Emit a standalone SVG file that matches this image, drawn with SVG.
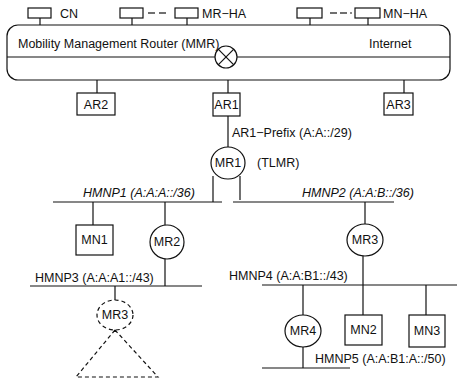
<svg xmlns="http://www.w3.org/2000/svg" width="457" height="384" viewBox="0 0 457 384">
<style>
text{font-family:"Liberation Sans",Arial,sans-serif;font-size:12.5px;fill:#111}
.b{fill:#fff;stroke:#111;stroke-width:1.2}
.l{stroke:#111;stroke-width:1.2;fill:none}
.d{stroke:#111;stroke-width:1.2;fill:none;stroke-dasharray:4 3}
</style>
<rect width="457" height="384" fill="#fff"/>
<g id="connectors">
<line class="l" x1="40" y1="18" x2="40" y2="25"/>
<line class="l" x1="132" y1="18" x2="132" y2="25"/>
<line class="l" x1="187" y1="18" x2="187" y2="25"/>
<line class="l" x1="310" y1="18" x2="310" y2="25"/>
<line class="l" x1="368" y1="18" x2="368" y2="25"/>
<line class="l" x1="148" y1="13" x2="155" y2="13" stroke-width="2"/>
<line class="l" x1="159" y1="13" x2="166" y2="13" stroke-width="2"/>
<line class="l" x1="330" y1="13" x2="337" y2="13" stroke-width="2"/>
<line class="l" x1="340" y1="13" x2="347" y2="13" stroke-width="2"/>
<line class="l" x1="350" y1="13" x2="352" y2="13" stroke-width="2"/>
<line class="l" x1="97" y1="80" x2="97" y2="93"/>
<line class="l" x1="228" y1="80" x2="228" y2="93"/>
<line class="l" x1="404" y1="80" x2="404" y2="93"/>
<line class="l" x1="228" y1="116" x2="228" y2="147"/>
<line class="l" x1="213" y1="176" x2="213" y2="202"/>
<line class="l" x1="240" y1="176" x2="240" y2="200"/>
<line class="l" x1="53" y1="202" x2="222" y2="202"/>
<line class="l" x1="233" y1="202" x2="394" y2="202"/>
<line class="l" x1="93" y1="202" x2="93" y2="225"/>
<line class="l" x1="165" y1="202" x2="165" y2="225"/>
<line class="l" x1="365" y1="202" x2="365" y2="224"/>
<line class="l" x1="165" y1="259" x2="165" y2="286"/>
<line class="l" x1="30" y1="286" x2="202" y2="286"/>
<line class="l" x1="115" y1="286" x2="115" y2="300"/>
<line class="l" x1="363" y1="256" x2="363" y2="315"/>
<line class="l" x1="262" y1="285" x2="457" y2="285"/>
<line class="l" x1="303" y1="285" x2="303" y2="315"/>
<line class="l" x1="426" y1="285" x2="426" y2="315"/>
<line class="l" x1="303" y1="347" x2="303" y2="368"/>
<line class="l" x1="262" y1="368" x2="350" y2="368"/>
</g>
<g id="mmr">
<rect class="b" x="7" y="25" width="443" height="55" rx="11"/>
<line class="l" x1="7" y1="57" x2="215" y2="57"/>
<line class="l" x1="237" y1="57" x2="450" y2="57"/>
<text x="18" y="48" font-size="13.5">Mobility Management Router (MMR)</text>
<text x="369" y="48">Internet</text>
<circle class="b" cx="226" cy="57" r="11"/>
<line class="l" x1="218.2" y1="49.2" x2="233.8" y2="64.8"/>
<line class="l" x1="233.8" y1="49.2" x2="218.2" y2="64.8"/>
</g>
<g id="cn"><rect class="b" x="28" y="8" width="23" height="10"/><text x="60" y="18">CN</text></g>
<g id="mrha1"><rect class="b" x="120" y="8" width="23" height="10"/></g>
<g id="mrha"><rect class="b" x="175" y="8" width="23" height="10"/><text x="202" y="18">MR−HA</text></g>
<g id="mnha1"><rect class="b" x="297" y="8" width="25" height="10"/></g>
<g id="mnha"><rect class="b" x="355" y="8" width="25" height="10"/><text x="383" y="18">MN−HA</text></g>
<g id="ar2"><rect class="b" x="77" y="93" width="38" height="22"/><text x="96" y="109" text-anchor="middle">AR2</text></g>
<g id="ar1"><rect class="b" x="213" y="93" width="27" height="23"/><text x="226.5" y="109" text-anchor="middle">AR1</text></g>
<g id="ar3"><rect class="b" x="384" y="93" width="29" height="22"/><text x="398.5" y="109" text-anchor="middle">AR3</text></g>
<g id="ar1prefix"><text x="232" y="137">AR1−Prefix (A:A::/29)</text></g>
<g id="mr1"><ellipse class="b" cx="228" cy="163" rx="17" ry="16"/><text x="228" y="167" text-anchor="middle">MR1</text><text x="257" y="167">(TLMR)</text></g>
<g id="hmnp1"><text x="83" y="197" font-style="italic">HMNP1 (A:A:A::/36)</text></g>
<g id="hmnp2"><text x="302" y="197" font-style="italic">HMNP2 (A:A:B::/36)</text></g>
<g id="mn1"><rect class="b" x="76" y="225" width="37" height="30"/><text x="94.5" y="244" text-anchor="middle">MN1</text></g>
<g id="mr2"><ellipse class="b" cx="167" cy="242" rx="17" ry="17"/><text x="167" y="246" text-anchor="middle">MR2</text></g>
<g id="mr3"><ellipse class="b" cx="365" cy="240" rx="18" ry="16"/><text x="365" y="244" text-anchor="middle">MR3</text></g>
<g id="hmnp3"><text x="35" y="282">HMNP3 (A:A:A1::/43)</text></g>
<g id="mr3b"><ellipse class="d" cx="115" cy="315" rx="18" ry="15" fill="#fff"/><text x="115" y="319" text-anchor="middle">MR3</text>
<polyline class="d" points="115,330 76,377 158,377 115,330"/></g>
<g id="hmnp4"><text x="229" y="280">HMNP4 (A:A:B1::/43)</text></g>
<g id="mr4"><ellipse class="b" cx="303" cy="331" rx="18" ry="16"/><text x="303" y="335" text-anchor="middle">MR4</text></g>
<g id="mn2"><rect class="b" x="345" y="315" width="37" height="30"/><text x="363.5" y="334" text-anchor="middle">MN2</text></g>
<g id="mn3"><rect class="b" x="409" y="315" width="36" height="32"/><text x="427" y="335" text-anchor="middle">MN3</text></g>
<g id="hmnp5"><text x="315" y="363">HMNP5 (A:A:B1:A::/50)</text></g>
</svg>
